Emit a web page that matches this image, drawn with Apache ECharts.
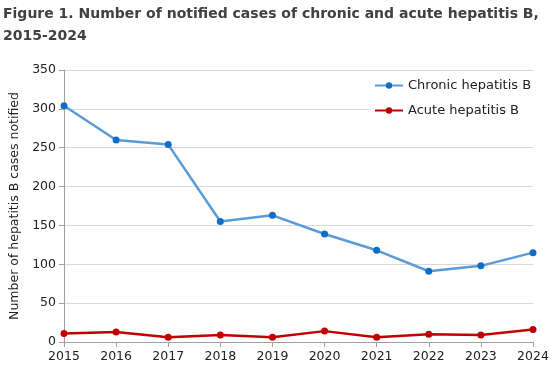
<!DOCTYPE html>
<html>
<head>
<meta charset="utf-8">
<script src="https://cdn.jsdelivr.net/npm/echarts@6/dist/echarts.min.js"></script>
<style>
  html, body { margin: 0; padding: 0; background: #fff; }
  #chart { width: 549px; height: 377px; }
</style>
</head>
<body>
<div id="chart"></div>
<script>
// Data
const years = ["2015", "2016", "2017", "2018", "2019", "2020", "2021", "2022", "2023", "2024"];
const chronic = [304, 260, 254, 155, 163, 139, 118, 91, 98, 115];
const acute = [11, 13, 6, 9, 6, 14, 6, 10, 9, 16];

const font = "DejaVu Sans";
const chart = echarts.init(document.getElementById("chart"));

chart.setOption({
  animation: false,
  title: {
    text: "Figure 1. Number of notified cases of chronic and acute hepatitis B,\n2015-2024",
    left: 3,
    top: 3,
    padding: 0,
    textStyle: {
      fontFamily: font,
      fontWeight: "bold",
      fontSize: 14,
      lineHeight: 22,
      color: "#404040",
    },
  },
  grid: { left: 64, right: 16, top: 70, bottom: 35, containLabel: false, outerBoundsMode: "none" },
  legend: {
    orient: "vertical",
    left: 370,
    top: 76,
    itemWidth: 28,
    itemHeight: 8,
    itemGap: 12,
    backgroundColor: "#fff",
    padding: [3, 6, 3, 4],
    textStyle: { fontFamily: font, fontSize: 13, color: "#222" },
    data: ["Chronic hepatitis B", "Acute hepatitis B"],
  },
  xAxis: {
    type: "category",
    data: years,
    boundaryGap: false,
    axisLine: { lineStyle: { color: "#a0a0a0" } },
    axisTick: { alignWithLabel: true, length: 5, lineStyle: { color: "#a0a0a0" } },
    axisLabel: { fontFamily: font, fontSize: 12.5, color: "#222", margin: 8 },
  },
  yAxis: {
    type: "value",
    min: 0,
    max: 350,
    interval: 50,
    name: "Number of hepatitis B cases notified",
    nameLocation: "middle",
    nameGap: 42,
    nameTextStyle: { fontFamily: font, fontSize: 12.5, color: "#222" },
    axisLine: { show: true, lineStyle: { color: "#a0a0a0" } },
    axisTick: { show: true, length: 5, lineStyle: { color: "#a0a0a0" } },
    axisLabel: { fontFamily: font, fontSize: 12.5, color: "#222", margin: 8 },
    splitLine: { lineStyle: { color: "#d9d9d9" } },
  },
  series: [
    {
      name: "Chronic hepatitis B",
      type: "line",
      data: chronic,
      symbol: "circle",
      symbolSize: 7,
      lineStyle: { color: "#5b9bd5", width: 2.5 },
      itemStyle: { color: "#0f6fc6", borderWidth: 0 },
      z: 3,
    },
    {
      name: "Acute hepatitis B",
      type: "line",
      data: acute,
      symbol: "circle",
      symbolSize: 7,
      lineStyle: { color: "#c00000", width: 2.5 },
      itemStyle: { color: "#c00000", borderWidth: 0 },
      z: 3,
    },
  ],
});
</script>
</body>
</html>
